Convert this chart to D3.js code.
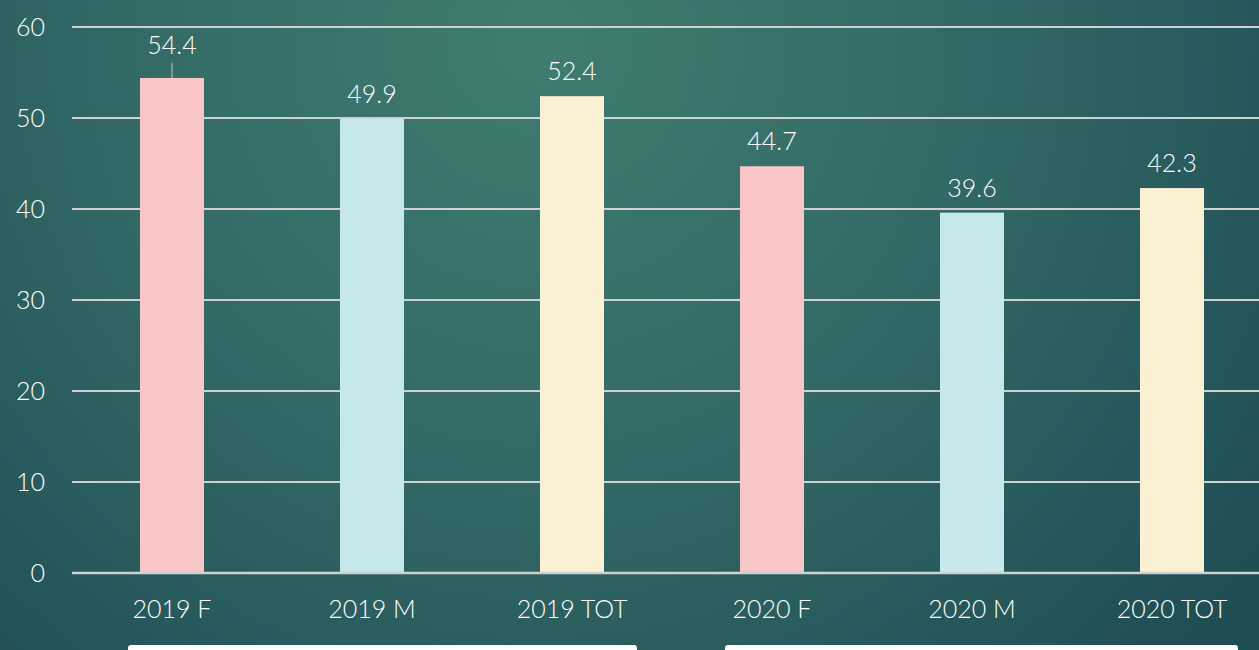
<!DOCTYPE html>
<html>
<head>
<meta charset="utf-8">
<script src="https://cdn.jsdelivr.net/npm/d3@7"></script>
<style>
  html, body { margin: 0; padding: 0; overflow: hidden; }
  body { width: 1259px; height: 650px; }
  text { font-family: "Lato", "DejaVu Sans", sans-serif; font-weight: 300; }
</style>
</head>
<body>
<script>
// dati del grafico
var categories = ["2019 F", "2019 M", "2019 TOT", "2020 F", "2020 M", "2020 TOT"];
var values = [54.4, 49.9, 52.4, 44.7, 39.6, 42.3];
var yTicks = [0, 10, 20, 30, 40, 50, 60];
var barColors = ["#f8c6c6", "#c5e8ea", "#faf0d4", "#f8c6c6", "#c5e8ea", "#faf0d4"];

var W = 1259, H = 650;
var margin = {top: 27, left: 72, bottom: 77};
var FS = 25;

var svg = d3.select("body").append("svg")
    .attr("width", W)
    .attr("height", H);

// sfondo
var defs = svg.append("defs");
var grad = defs.append("radialGradient")
    .attr("id", "bg")
    .attr("gradientUnits", "userSpaceOnUse")
    .attr("cx", 540).attr("cy", 40).attr("r", 900);
grad.append("stop").attr("offset", "0%").attr("stop-color", "#407c70");
grad.append("stop").attr("offset", "45%").attr("stop-color", "#336a66");
grad.append("stop").attr("offset", "100%").attr("stop-color", "#1e4d54");

svg.append("rect")
    .attr("width", W).attr("height", H)
    .attr("fill", "url(#bg)");

var x = d3.scaleBand()
    .domain(categories)
    .range([margin.left, margin.left + 200 * categories.length])
    .paddingInner(0.68)
    .paddingOuter(0.34);

var y = d3.scaleLinear()
    .domain([0, 60])
    .range([H - margin.bottom, margin.top]);

// griglia
svg.append("g")
    .selectAll("line")
    .data(yTicks)
    .enter().append("line")
    .attr("x1", margin.left)
    .attr("x2", W)
    .attr("y1", function(d) { return y(d); })
    .attr("y2", function(d) { return y(d); })
    .attr("stroke", "#d0d0d0")
    .attr("stroke-width", 2);

var yAxis = d3.axisLeft(y)
    .tickValues(yTicks)
    .tickSize(0)
    .tickPadding(0);

svg.append("g")
    .attr("transform", "translate(45,0)")
    .call(yAxis)
    .call(function(g) { g.select(".domain").remove(); })
    .selectAll("text")
    .attr("fill", "#ffffff")
    .attr("font-size", FS)
    .attr("dy", "0.35em");

// barre
svg.append("g")
    .selectAll("rect")
    .data(values)
    .enter().append("rect")
    .attr("x", function(d, i) { return x(categories[i]); })
    .attr("y", function(d) { return y(d); })
    .attr("width", x.bandwidth())
    .attr("height", function(d) { return y(0) - y(d); })
    .attr("fill", function(d, i) { return barColors[i]; });

// linea dello zero sopra le barre
svg.append("line")
    .attr("x1", margin.left).attr("x2", W)
    .attr("y1", y(0)).attr("y2", y(0))
    .attr("stroke", "#d0d0d0")
    .attr("stroke-width", 2.5);

// etichette dei valori (quella troppo vicina alla griglia viene spostata su con linea guida)
var minTop = y(54);
function moved(d) { return y(d) < minTop; }
function labelY(d) {
  return moved(d) ? y(d) - 24 : y(d) - 16;
}
function cx(i) { return x(categories[i]) + x.bandwidth() / 2; }

svg.append("g")
    .selectAll("line")
    .data(values)
    .enter().filter(function(d) { return moved(d); })
    .append("line")
    .attr("x1", function(d) { return cx(values.indexOf(d)); })
    .attr("x2", function(d) { return cx(values.indexOf(d)); })
    .attr("y1", function(d) { return labelY(d) + 9; })
    .attr("y2", function(d) { return y(d); })
    .attr("stroke", "#a8b8b4")
    .attr("stroke-width", 1.2);

svg.append("g")
    .selectAll("text")
    .data(values)
    .enter().append("text")
    .attr("x", function(d, i) { return cx(i); })
    .attr("y", labelY)
    .attr("text-anchor", "middle")
    .attr("fill", "#ffffff")
    .attr("font-size", FS)
    .text(function(d) { return d.toFixed(1); });

// asse x
var xAxis = d3.axisBottom(x).tickSize(0).tickPadding(0);
svg.append("g")
    .attr("transform", "translate(0,609)")
    .call(xAxis)
    .call(function(g) { g.select(".domain").remove(); })
    .selectAll("text")
    .attr("fill", "#ffffff")
    .attr("font-size", FS)
    .attr("dy", "0.35em");

// riquadri bianchi in basso
svg.append("rect")
    .attr("x", 128).attr("y", 645)
    .attr("width", 509).attr("height", 20)
    .attr("rx", 3)
    .attr("fill", "#ffffff");
svg.append("rect")
    .attr("x", 725).attr("y", 645)
    .attr("width", 513).attr("height", 20)
    .attr("rx", 3)
    .attr("fill", "#ffffff");
</script>
</body>
</html>
